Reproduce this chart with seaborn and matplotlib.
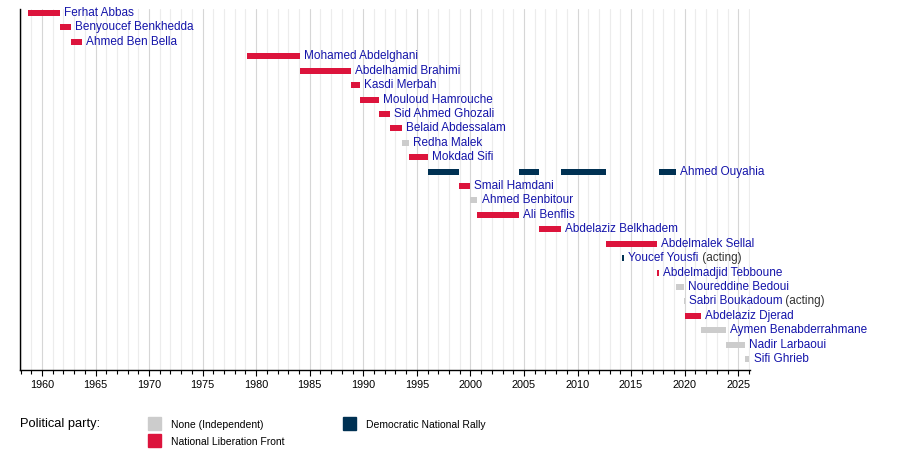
import matplotlib.pyplot as plt
import matplotlib.patches as mpatches
import seaborn as sns
import pandas as pd
import numpy as np

# prime ministers, top to bottom
names = ['Ferhat Abbas', 'Benyoucef Benkhedda', 'Ahmed Ben Bella', 'Mohamed Abdelghani',
         'Abdelhamid Brahimi', 'Kasdi Merbah', 'Mouloud Hamrouche', 'Sid Ahmed Ghozali',
         'Belaid Abdessalam', 'Redha Malek', 'Mokdad Sifi', 'Ahmed Ouyahia',
         'Smail Hamdani', 'Ahmed Benbitour', 'Ali Benflis', 'Abdelaziz Belkhadem',
         'Abdelmalek Sellal', 'Youcef Yousfi', 'Abdelmadjid Tebboune', 'Noureddine Bedoui',
         'Sabri Boukadoum', 'Abdelaziz Djerad', 'Aymen Benabderrahmane', 'Nadir Larbaoui',
         'Sifi Ghrieb']
acting = ['Youcef Yousfi', 'Sabri Boukadoum']

# terms (decimal years), one entry per bar
term_name = ['Ferhat Abbas', 'Benyoucef Benkhedda', 'Ahmed Ben Bella', 'Mohamed Abdelghani',
             'Abdelhamid Brahimi', 'Kasdi Merbah', 'Mouloud Hamrouche', 'Sid Ahmed Ghozali',
             'Belaid Abdessalam', 'Redha Malek', 'Mokdad Sifi', 'Ahmed Ouyahia',
             'Ahmed Ouyahia', 'Ahmed Ouyahia', 'Ahmed Ouyahia', 'Smail Hamdani',
             'Ahmed Benbitour', 'Ali Benflis', 'Abdelaziz Belkhadem', 'Abdelmalek Sellal',
             'Youcef Yousfi', 'Abdelmadjid Tebboune', 'Noureddine Bedoui', 'Sabri Boukadoum',
             'Abdelaziz Djerad', 'Aymen Benabderrahmane', 'Nadir Larbaoui', 'Sifi Ghrieb']
term_start = [1958.72, 1961.65, 1962.74, 1979.18, 1984.06, 1988.85, 1989.69, 1991.43,
              1992.52, 1993.64, 1994.28, 1996.0, 2004.55, 2008.48, 2017.62, 1998.95,
              1999.98, 2000.65, 2006.39, 2012.67, 2014.18, 2017.38, 2019.19, 2019.95,
              2019.99, 2021.5, 2023.86, 2025.66]
term_end = [1961.65, 1962.74, 1963.72, 1984.06, 1988.85, 1989.69, 1991.43, 1992.52,
            1993.64, 1994.28, 1996.0, 1998.95, 2006.39, 2012.67, 2019.19, 1999.98,
            2000.65, 2004.55, 2008.48, 2017.39, 2014.36, 2017.62, 2019.95, 2019.99,
            2021.5, 2023.86, 2025.66, 2026.05]
term_party = ['FLN', 'FLN', 'FLN', 'FLN', 'FLN', 'FLN', 'FLN', 'FLN',
              'FLN', 'IND', 'FLN', 'RND', 'RND', 'RND', 'RND', 'FLN',
              'IND', 'FLN', 'FLN', 'FLN', 'RND', 'FLN', 'IND', 'IND',
              'FLN', 'IND', 'IND', 'IND']

party_labels = {'IND': 'None (Independent)', 'FLN': 'National Liberation Front',
                'RND': 'Democratic National Rally'}
party_colors = {'IND': '#cccccc', 'FLN': '#dc143c', 'RND': '#003153'}

df = pd.DataFrame({'name': term_name, 'start': term_start, 'end': term_end, 'party': term_party})
df['row'] = df['name'].map({n: i for i, n in enumerate(names)})

sns.set_theme(style='white')
plt.rcParams['font.family'] = ['Liberation Sans', 'DejaVu Sans']

fig = plt.figure(figsize=(9, 4.5), dpi=100)
ax = fig.add_axes([20 / 900, 1 - 370 / 450, 730 / 900, 361 / 450])

ax.barh(df['row'], df['end'] - df['start'], left=df['start'], height=0.42,
        color=df['party'].map(party_colors), linewidth=0, zorder=3)

# name labels after each person's last bar
last_end = df.groupby('name')['end'].max()
for i, n in enumerate(names):
    t = ax.annotate(n, xy=(last_end[n], i), xytext=(3, 0), textcoords='offset points',
                    ha='left', va='center', fontsize=8.5, color='#1414aa', zorder=4)
    if n in acting:
        ax.annotate(' (acting)', xy=(1, 0.5), xycoords=t, ha='left', va='center',
                    fontsize=8.5, color='#333333', zorder=4)

ax.set_xlim(1957.95, 2026.1)
ax.set_ylim(24.76, -0.28)
ax.set_yticks([])
ax.set_xticks(np.arange(1960, 2026, 5))
ax.set_xticks(np.arange(1958, 2027, 1), minor=True)
ax.tick_params(axis='x', which='major', direction='out', length=4, width=0.8,
               color='black', labelcolor='black', labelsize=7.8, pad=3.5, bottom=True)
ax.tick_params(axis='x', which='minor', direction='out', length=3, width=0.8,
               color='black', bottom=True)
ax.grid(which='major', axis='x', color='#d6d6d6', linewidth=0.8)
ax.grid(which='minor', axis='x', color='#ececec', linewidth=0.8)
ax.set_axisbelow(True)
sns.despine(ax=ax, top=True, right=True)
for s in ['left', 'bottom']:
    ax.spines[s].set_color('black')
    ax.spines[s].set_linewidth(1)

# legend drawn below the axis
fig.text(20 / 900, 1 - 424 / 450, 'Political party:', fontsize=9.3, va='center', ha='left',
         color='black')
legend_pos = {'IND': (148, 423.5), 'FLN': (148, 440.8), 'RND': (343, 423.5)}
for p, (px, py) in legend_pos.items():
    fig.patches.append(mpatches.Rectangle((px / 900, 1 - (py + 6.5) / 450), 12.5 / 900, 13 / 450,
                                          transform=fig.transFigure, color=party_colors[p]))
    fig.text((px + 23) / 900, 1 - (py + 1.5) / 450, party_labels[p], fontsize=7.5,
             va='center', ha='left', color='black')

fig.savefig('out.png', dpi=100)
